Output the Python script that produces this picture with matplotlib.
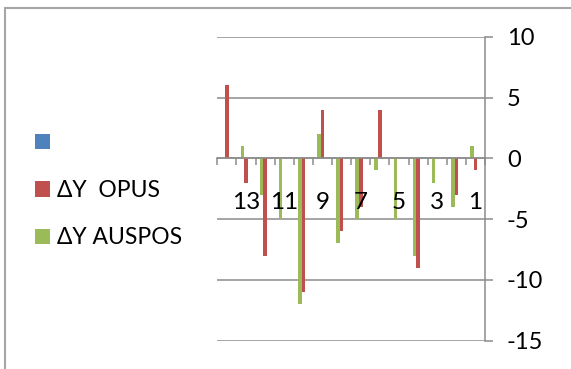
import matplotlib.pyplot as plt
import numpy as np
from matplotlib.patches import Rectangle

plt.rcParams['font.family'] = ['Lato', 'DejaVu Sans']
plt.rcParams['axes.unicode_minus'] = False

# station numbers and coordinate differences (m)
stations = list(range(1, 15))
dy_blank = [0] * 14
dy_opus = [-1, -3, 0, -9, 0, 4, -4, -6, 4, -11, 0, -8, -2, 6]
dy_auspos = [1, -4, -2, -8, -5, -1, -5, -7, 2, -12, -5, -3, 1, 0]
series_names = ['', 'ΔY  OPUS', 'ΔY AUSPOS']
y_ticks = [-15, -10, -5, 0, 5, 10]

blue = '#4F81BD'
red = '#C0504D'
green = '#9BBB59'
axis_gray = '#8C8C8C'


def delta_chart():
    fig = plt.figure(figsize=(5.71, 3.69), dpi=100)
    ax = fig.add_axes([0.3806, 0.0767, 0.4688, 0.8238])

    # gridlines behind the bars, tick labels in front of them
    ax.hlines(y_ticks, 0.5, 14.5, color=axis_gray, linewidth=1.1, zorder=0)

    x = np.array(stations)
    w = 0.19
    b1 = ax.bar(x - w, dy_blank, w, color=blue, zorder=1)
    b2 = ax.bar(x, dy_opus, w, color=red, zorder=1)
    b3 = ax.bar(x + w, dy_auspos, w, color=green, zorder=1)

    ax.set_xlim(14.5, 0.5)
    ax.set_ylim(-15, 10)

    for s in ['left', 'top']:
        ax.spines[s].set_visible(False)
    ax.spines['bottom'].set_position(('data', 0))
    ax.spines['bottom'].set_color(axis_gray)
    ax.spines['bottom'].set_linewidth(1.1)
    ax.spines['right'].set_color(axis_gray)
    ax.spines['right'].set_linewidth(1.1)

    ax.yaxis.tick_right()
    ax.set_yticks(y_ticks)
    ax.tick_params(axis='y', direction='out', length=5.8, width=1.1,
                   color=axis_gray, pad=10, labelsize=17)

    ax.set_xticks(np.arange(0.5, 15, 1))
    ax.set_xticklabels([])
    ax.tick_params(axis='x', which='major', direction='out', length=5,
                   width=1.1, color=axis_gray)
    odd = [s for s in stations if s % 2 == 1]
    ax.set_xticks(odd, minor=True)
    ax.set_xticklabels([str(s) for s in odd], minor=True)
    ax.tick_params(axis='x', which='minor', length=0, pad=24,
                   labelsize=17.5)

    fig.legend([b1, b2, b3], series_names, loc='upper left',
               bbox_to_anchor=(0.045, 0.665), frameon=False,
               fontsize=16.5, handlelength=0.65, handleheight=0.65,
               handletextpad=0.3, labelspacing=1.15, borderaxespad=0)

    fig.add_artist(Rectangle((0.0088, -0.2), 1.2, 0.978 + 0.2,
                             transform=fig.transFigure, fill=False,
                             edgecolor='#A6A6A6', linewidth=1.5))

    fig.savefig('out.png', dpi=100)


if __name__ == "__main__":
    delta_chart()
